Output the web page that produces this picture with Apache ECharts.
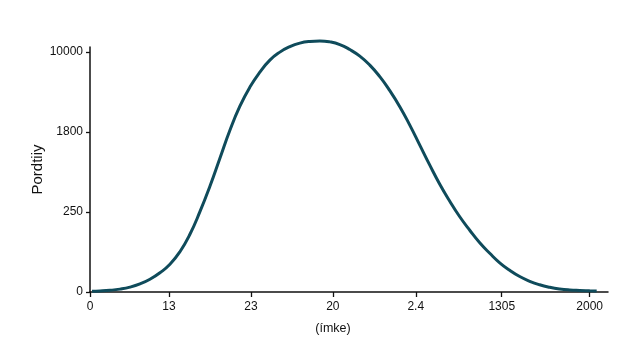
<!DOCTYPE html>
<html>
<head>
<meta charset="utf-8">
<script src="https://cdn.jsdelivr.net/npm/echarts@6/dist/echarts.min.js"></script>
<style>html,body{margin:0;padding:0;background:#fff}#c{width:643px;height:360px}</style>
</head>
<body>
<div id="c"></div>
<script>
// Tick labels and where each sits along its axis (axis units)
const xTickLabels = ['0', '13', '23', '20', '2.4', '1305', '2000'];
const xTickValues = [0, 0.948, 1.932, 2.916, 3.912, 4.944, 6.0];
const yTickLabels = ['0', '250', '1800', '10000'];
const yTickValues = [0, 1, 2, 3];
const xTitle = '(ímke)';
const yTitle = 'Pordtiiy';
// Curve, in axis units
const curveX = [0.024, 0.12, 0.24, 0.36, 0.48, 0.60, 0.72, 0.84, 0.96, 1.08, 1.20, 1.32, 1.44, 1.56, 1.68, 1.80, 1.92, 2.04, 2.16, 2.28, 2.40, 2.52, 2.64, 2.76, 2.88, 3.00, 3.12, 3.24, 3.36, 3.48, 3.60, 3.72, 3.84, 3.96, 4.08, 4.20, 4.32, 4.44, 4.56, 4.68, 4.80, 4.92, 5.04, 5.16, 5.28, 5.40, 5.52, 5.64, 5.76, 5.88, 6.00, 6.084];
const curveY = [0.009, 0.0125, 0.021, 0.036, 0.061, 0.101, 0.159, 0.240, 0.346, 0.503, 0.721, 1.003, 1.321, 1.671, 2.021, 2.321, 2.559, 2.746, 2.896, 2.996, 3.065, 3.109, 3.130, 3.136, 3.124, 3.09, 3.028, 2.946, 2.834, 2.69, 2.515, 2.315, 2.084, 1.834, 1.584, 1.346, 1.134, 0.94, 0.771, 0.615, 0.484, 0.365, 0.271, 0.193, 0.134, 0.09, 0.059, 0.0375, 0.025, 0.019, 0.015, 0.0125];

const chart = echarts.init(document.getElementById('c'), null, {renderer: 'canvas'});
const font = 'Liberation Sans, Arial, sans-serif';
const axisLine = {show: true, lineStyle: {color: '#111', width: 1.5}};
const labelAt = (vals, labels) => v => {
  let best = 0;
  vals.forEach((t, i) => { if (Math.abs(t - v) < Math.abs(vals[best] - v)) best = i; });
  return labels[best];
};
chart.setOption({
  animation: false,
  grid: {left: 90, right: 35, top: 47, bottom: 68, containLabel: false},
  xAxis: {
    type: 'value', min: 0, max: 6.22,
    name: xTitle, nameLocation: 'middle', nameGap: 30, nameMoveOverlap: false,
    nameTextStyle: {fontFamily: font, fontSize: 12.5, color: '#111', padding: [0, 32, 0, 0]},
    axisLine: axisLine,
    axisTick: {show: true, length: 5, lineStyle: {color: '#111', width: 1.3}, customValues: xTickValues},
    axisLabel: {customValues: xTickValues, formatter: labelAt(xTickValues, xTickLabels), fontFamily: font, fontSize: 12, color: '#111', margin: 9},
    splitLine: {show: false}
  },
  yAxis: {
    type: 'value', min: 0, max: 3.06,
    name: yTitle, nameLocation: 'middle', nameGap: 45, nameRotate: 90, nameMoveOverlap: false,
    nameTextStyle: {fontFamily: font, fontSize: 15, color: '#111'},
    axisLine: axisLine,
    axisTick: {show: true, length: 4, lineStyle: {color: '#111', width: 1.3}, customValues: yTickValues},
    axisLabel: {customValues: yTickValues, formatter: labelAt(yTickValues, yTickLabels), fontFamily: font, fontSize: 12, color: '#111', margin: 7},
    splitLine: {show: false}
  },
  series: [{
    type: 'line',
    data: curveX.map((x, i) => [x, curveY[i]]),
    smooth: 0.5,
    showSymbol: false,
    clip: false,
    lineStyle: {color: '#0f4b5b', width: 3}
  }]
});
</script>
</body>
</html>
